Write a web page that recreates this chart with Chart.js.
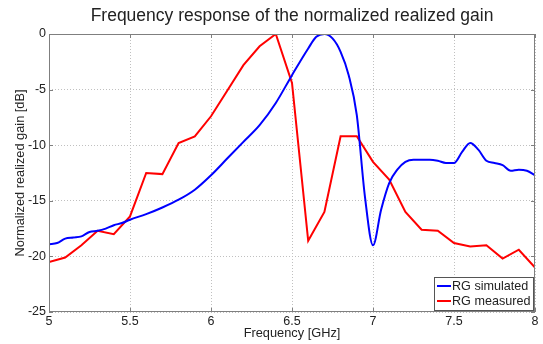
<!DOCTYPE html>
<html><head><meta charset="utf-8">
<script src="https://cdn.jsdelivr.net/npm/chart.js@4/dist/chart.umd.min.js"></script>
<style>html,body{margin:0;padding:0;background:#fff}#wrap{width:543px;height:344px}</style>
</head><body><div id="wrap"><canvas id="c" width="543" height="344"></canvas></div>
<script>
const titleText = "Frequency response of the normalized realized gain";
const xLabel = "Frequency [GHz]";
const yLabel = "Normalized realized gain [dB]";
const xTicks = [5, 5.5, 6, 6.5, 7, 7.5, 8];
const yTicks = [0, -5, -10, -15, -20, -25];

const simFreq = [5.0,5.05,5.1,5.15,5.2,5.25,5.3,5.35,5.4,5.45,5.5,5.6,5.7,5.8,5.9,6.0,6.1,6.2,6.3,6.4,6.5,6.6,6.65,6.7,6.75,6.8,6.85,6.9,6.95,7.0,7.05,7.1,7.15,7.2,7.25,7.3,7.35,7.4,7.45,7.5,7.55,7.6,7.65,7.7,7.75,7.8,7.85,7.9,7.95,8.0];
const simGain = [-18.9,-18.8,-18.4,-18.3,-18.2,-17.8,-17.7,-17.5,-17.2,-17.0,-16.7,-16.2,-15.6,-14.9,-14.0,-12.7,-11.2,-9.7,-8.2,-6.2,-3.7,-1.3,-0.25,0,-0.4,-1.6,-3.7,-7.3,-14.6,-19.0,-15.8,-13.4,-12.2,-11.5,-11.3,-11.3,-11.3,-11.4,-11.6,-11.6,-10.6,-9.8,-10.4,-11.4,-11.6,-11.8,-12.3,-12.2,-12.3,-12.7];

const measFreq = [5.0,5.1,5.2,5.3,5.4,5.5,5.6,5.7,5.8,5.9,6.0,6.1,6.2,6.3,6.4,6.5,6.6,6.7,6.8,6.9,7.0,7.1,7.2,7.3,7.4,7.5,7.6,7.7,7.8,7.9,8.0];
const measGain = [-20.5,-20.1,-19.0,-17.7,-18.0,-16.4,-12.5,-12.6,-9.8,-9.2,-7.4,-5.1,-2.8,-1.1,0,-4.4,-18.6,-16.0,-9.2,-9.2,-11.5,-13.1,-16.0,-17.6,-17.7,-18.8,-19.1,-19.0,-20.2,-19.4,-21.0];

const seriesNames = ["RG simulated", "RG measured"];
const seriesColors = ["#0000ff", "#ff0000"];

const FONT = "'Liberation Sans', Arial, sans-serif";

const frameAndLegend = {
  id: 'frameAndLegend',
  afterDatasetsDraw(chart) {
    const {ctx, chartArea: a} = chart;
    ctx.save();
    ctx.strokeStyle = '#7f7f7f';
    ctx.lineWidth = 1;
    ctx.strokeRect(a.left + 0.5, a.top + 0.5, a.right - a.left - 1, a.bottom - a.top - 1);
    const xs = chart.scales.x, ys = chart.scales.y;
    ctx.beginPath();
    xTicks.forEach(v => {
      const px = Math.round(xs.getPixelForValue(v)) + 0.5;
      ctx.moveTo(px, a.bottom); ctx.lineTo(px, a.bottom - 4);
      ctx.moveTo(px, a.top); ctx.lineTo(px, a.top + 4);
    });
    yTicks.forEach(v => {
      const py = Math.round(ys.getPixelForValue(v)) + 0.5;
      ctx.moveTo(a.left, py); ctx.lineTo(a.left + 4, py);
      ctx.moveTo(a.right, py); ctx.lineTo(a.right - 4, py);
    });
    ctx.stroke();
    const bx = a.right - 101, by = a.bottom - 35, bw = 99, bh = 33;
    ctx.fillStyle = '#fff';
    ctx.fillRect(bx, by, bw, bh);
    ctx.strokeStyle = '#555';
    ctx.strokeRect(bx + 0.5, by + 0.5, bw, bh);
    ctx.font = '12.6px ' + FONT;
    ctx.textBaseline = 'middle';
    ctx.textAlign = 'left';
    seriesNames.forEach((n, i) => {
      const yy = by + 9 + i * 15;
      ctx.strokeStyle = seriesColors[i];
      ctx.lineWidth = 2;
      ctx.beginPath(); ctx.moveTo(bx + 3, yy); ctx.lineTo(bx + 17, yy); ctx.stroke();
      ctx.fillStyle = '#222';
      ctx.fillText(n, bx + 18, yy + 1);
    });
    ctx.restore();
  }
};

new Chart(document.getElementById('c'), {
  type: 'line',
  data: {
    datasets: [
      { label: seriesNames[0], data: simFreq.map((f, i) => ({x: f, y: simGain[i]})),
        borderColor: seriesColors[0], borderWidth: 2, pointRadius: 0, tension: 0.4, cubicInterpolationMode: 'monotone', fill: false },
      { label: seriesNames[1], data: measFreq.map((f, i) => ({x: f, y: measGain[i]})),
        borderColor: seriesColors[1], borderWidth: 2, pointRadius: 0, tension: 0, fill: false }
    ]
  },
  options: {
    responsive: false,
    animation: false,
    layout: { padding: { left: 0, right: 8, top: 0, bottom: 0 } },
    plugins: {
      legend: { display: false },
      tooltip: { enabled: false },
      title: { display: true, fullSize: false, text: titleText, color: '#222', font: { family: FONT, size: 17.5, weight: 'normal' }, padding: { top: 6, bottom: 7 } }
    },
    scales: {
      x: {
        type: 'linear', min: 5, max: 8,
        afterBuildTicks: s => { s.ticks = xTicks.map(v => ({value: v})); },
        afterFit: s => { s.height = 32; },
        ticks: { color: '#222', font: { family: FONT, size: 12.5 }, padding: 2, maxRotation: 0, callback: v => String(v) },
        grid: { color: '#c0c0c0', lineWidth: 1, drawTicks: false },
        border: { display: false, dash: [1, 2] },
        title: { display: true, text: xLabel, color: '#222', font: { family: FONT, size: 12.8 }, padding: { top: 0, bottom: 3 } }
      },
      y: {
        type: 'linear', min: -25, max: 0,
        afterBuildTicks: s => { s.ticks = yTicks.map(v => ({value: v})); },
        afterFit: s => { s.width = 49; },
        ticks: { color: '#222', font: { family: FONT, size: 12.5 }, padding: 3, callback: v => String(v) },
        grid: { color: '#c0c0c0', lineWidth: 1, drawTicks: false },
        border: { display: false, dash: [1, 2] },
        title: { display: true, text: yLabel, color: '#222', font: { family: FONT, size: 12.8 }, padding: { top: 13, bottom: 0 } }
      }
    }
  },
  plugins: [frameAndLegend]
});
</script></body></html>
